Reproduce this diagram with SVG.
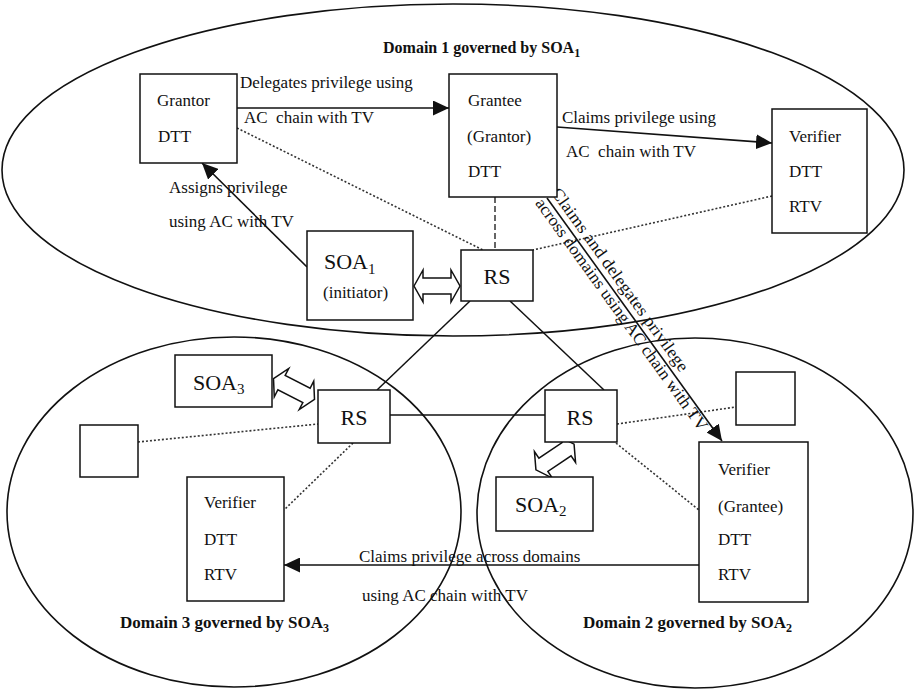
<svg xmlns="http://www.w3.org/2000/svg" xmlns:xlink="http://www.w3.org/1999/xlink" width="915" height="690" viewBox="0 0 915 690">
<style>
text{font-family:"Liberation Serif","Times New Roman",serif;fill:#111;font-size:17px}
.t{font-weight:bold;font-size:16px}
.big{font-size:22px}
.sub{font-size:12px}
.dom{fill:none;stroke:#111;stroke-width:1.6}
.box{fill:#fff;stroke:#111;stroke-width:1.5}
.ln{fill:none;stroke:#111;stroke-width:1.5}
.arr{fill:none;stroke:#111;stroke-width:1.6;marker-end:url(#ah)}
.dot{fill:none;stroke:#333;stroke-width:1.6;stroke-dasharray:2 2}
.dash{fill:none;stroke:#333;stroke-width:1.5;stroke-dasharray:6 3}
.dbl{fill:#fff;stroke:#111;stroke-width:1.5}
</style>
<defs>
<marker id="ah" markerUnits="userSpaceOnUse" markerWidth="17" markerHeight="15" refX="16" refY="7.5" orient="auto">
<path d="M0,0 L16,7.5 L0,15 z" fill="#111"/>
</marker>
<polygon id="dblarrow" points="-23,0 -14,-16 -14,-8 14,-8 14,-16 23,0 14,16 14,8 -14,8 -14,16"/>
</defs>

<g id="domains">
<ellipse class="dom" cx="453" cy="170" rx="451" ry="166"/>
<ellipse class="dom" cx="234" cy="512" rx="227" ry="175"/>
<ellipse class="dom" cx="695" cy="513" rx="218" ry="175"/>
</g>

<g id="connectors">
<line class="dot" x1="237" y1="128" x2="483" y2="250"/>
<line class="dot" x1="772" y1="196" x2="533" y2="250"/>
<line class="dash" x1="495" y1="197" x2="495" y2="250"/>
<line class="ln" x1="470" y1="301" x2="377" y2="390"/>
<line class="ln" x1="510" y1="301" x2="604" y2="390"/>
<line class="ln" x1="390" y1="415" x2="545" y2="415"/>
<line class="dot" x1="138" y1="442" x2="318" y2="424"/>
<line class="dot" x1="353" y1="443" x2="284" y2="510"/>
<line class="dot" x1="617" y1="424" x2="736" y2="407"/>
<line class="dot" x1="616" y1="443" x2="699" y2="510"/>
<line class="arr" x1="237" y1="108" x2="449" y2="108"/>
<line class="arr" x1="557" y1="127" x2="772" y2="143"/>
<line class="arr" x1="307" y1="267" x2="202" y2="163"/>
<line class="arr" x1="547" y1="198" x2="722" y2="441"/>
<line class="arr" x1="699" y1="565" x2="284" y2="565"/>
<use xlink:href="#dblarrow" class="dbl" transform="translate(437,286)"/>
<use xlink:href="#dblarrow" class="dbl" transform="translate(294,389) rotate(27)"/>
<use xlink:href="#dblarrow" class="dbl" transform="translate(555,457) rotate(-34)"/>
</g>

<g id="labels">
<text class="t" x="383" y="53">Domain 1 governed by SOA<tspan class="sub" dy="4">1</tspan></text>
<text x="240" y="88">Delegates privilege using</text>
<text x="244" y="123" xml:space="preserve">AC  chain with TV</text>
<text x="562" y="123">Claims privilege using</text>
<text x="566" y="157" xml:space="preserve">AC  chain with TV</text>
<text x="169" y="193">Assigns privilege</text>
<text x="169" y="227">using AC with TV</text>
<g transform="translate(547,198) rotate(54.2)">
<text x="-2" y="-6" textLength="222" lengthAdjust="spacingAndGlyphs">Claims and delegates privilege</text>
<text x="-3" y="13" textLength="282" lengthAdjust="spacingAndGlyphs">across domains using AC chain with TV</text>
</g>
<text x="359" y="562">Claims privilege across domains</text>
<text x="362" y="601">using AC chain with TV</text>
<text class="t" x="120" y="628" style="font-size:17px">Domain 3 governed by SOA<tspan class="sub" dy="4">3</tspan></text>
<text class="t" x="583" y="628" style="font-size:17px">Domain 2 governed by SOA<tspan class="sub" dy="4">2</tspan></text>
</g>

<g id="grantor">
<rect class="box" x="140" y="74" width="97" height="89"/>
<text x="157" y="106">Grantor</text>
<text x="158" y="142">DTT</text>
</g>
<g id="grantee">
<rect class="box" x="449" y="74" width="108" height="123"/>
<text x="468" y="106">Grantee</text>
<text x="467" y="142">(Grantor)</text>
<text x="468" y="177">DTT</text>
</g>
<g id="verifier1">
<rect class="box" x="772" y="109" width="95" height="124"/>
<text x="789" y="142">Verifier</text>
<text x="789" y="177">DTT</text>
<text x="789" y="212">RTV</text>
</g>
<g id="soa1">
<rect class="box" x="307" y="231" width="106" height="89"/>
<text class="big" x="324" y="269">SOA<tspan style="font-size:15px" dy="5">1</tspan></text>
<text x="323" y="298">(initiator)</text>
</g>
<g id="rs1">
<rect class="box" x="461" y="250" width="72" height="51"/>
<text class="big" x="497" y="284" text-anchor="middle">RS</text>
</g>
<g id="soa3">
<rect class="box" x="175" y="355" width="97" height="52"/>
<text class="big" x="193" y="390">SOA<tspan style="font-size:15px" dy="4">3</tspan></text>
</g>
<g id="rs3">
<rect class="box" x="318" y="390" width="72" height="53"/>
<text class="big" x="354" y="425" text-anchor="middle">RS</text>
</g>
<g id="node3a">
<rect class="box" x="80" y="425" width="58" height="52"/>
</g>
<g id="verifier3">
<rect class="box" x="187" y="477" width="97" height="124"/>
<text x="204" y="508">Verifier</text>
<text x="204" y="545">DTT</text>
<text x="204" y="580">RTV</text>
</g>
<g id="rs2">
<rect class="box" x="545" y="390" width="72" height="52"/>
<text class="big" x="580" y="425" text-anchor="middle">RS</text>
</g>
<g id="node2a">
<rect class="box" x="736" y="372" width="59" height="53"/>
</g>
<g id="soa2">
<rect class="box" x="496" y="477" width="97" height="54"/>
<text class="big" x="515" y="512">SOA<tspan style="font-size:15px" dy="4">2</tspan></text>
</g>
<g id="verifier2">
<rect class="box" x="699" y="442" width="109" height="160"/>
<text x="718" y="475">Verifier</text>
<text x="718" y="512">(Grantee)</text>
<text x="718" y="545">DTT</text>
<text x="718" y="580">RTV</text>
</g>
</svg>
